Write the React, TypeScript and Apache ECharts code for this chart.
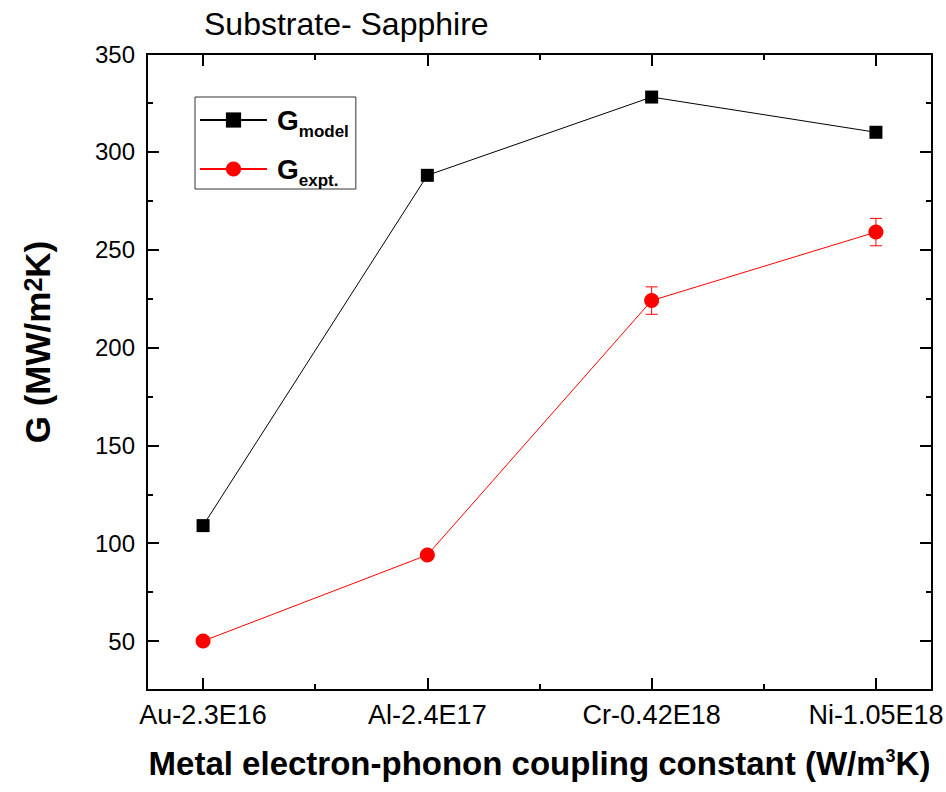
import React, { useEffect, useRef } from "react";
import * as echarts from "echarts";

// Interfacial thermal conductance on a sapphire substrate
const categories = ["Au-2.3E16", "Al-2.4E17", "Cr-0.42E18", "Ni-1.05E18"];
const gModel = [109, 288, 328, 310];
const gExpt = [50, 94, 224, 259];
const gExptErr = [0, 0, 7, 7];

const yMajorTicks = [50, 100, 150, 200, 250, 300, 350];
const yMinorTicks = [75, 125, 175, 225, 275, 325];
const xMinorTicks = [0.5, 1.5, 2.5];

const FONT = "'Liberation Sans', Arial, Helvetica, sans-serif";

export default function App() {
  const ref = useRef<HTMLDivElement>(null);

  useEffect(() => {
    if (!ref.current) return;
    const chart = echarts.init(ref.current, null, { renderer: "svg" });

    const xMajorTicks = categories.map((_, i) => i);
    const modelData = gModel.map((v, i) => [i, v]);
    const exptData = gExpt.map((v, i) => [i, v]);
    const errData = gExpt
      .map((v, i) => [i, v, gExptErr[i]])
      .filter((d) => d[2] > 0);

    const axisLine = { show: true, onZero: false, lineStyle: { color: "#000", width: 2 } };
    const noLine = { show: false, onZero: false };
    const tickStyle = { color: "#000", width: 2 };

    const xBase = {
      type: "value" as const,
      min: -0.25,
      max: 3.25,
      splitLine: { show: false },
    };
    const yBase = {
      type: "value" as const,
      min: 25,
      max: 350,
      splitLine: { show: false },
    };

    const legendNames: Record<string, string> = {
      Gmodel: "{g|G}{s|model}",
      Gexpt: "{g|G}{s|expt.}",
    };

    chart.setOption({
      animation: false,
      backgroundColor: "#fff",
      textStyle: { fontFamily: FONT },
      title: {
        text: "Substrate- Sapphire",
        left: 199,
        top: 3,
        textStyle: { fontFamily: FONT, fontSize: 32, fontWeight: "normal", color: "#000" },
      },
      grid: { left: 147, right: 14, top: 54, bottom: 102, outerBoundsMode: "none", containLabel: false },
      legend: {
        orient: "vertical",
        left: 195,
        top: 97,
        itemWidth: 67,
        itemHeight: 19,
        itemGap: 6,
        padding: [0, 7, 0, 4],
        borderColor: "#333",
        borderWidth: 1,
        data: ["Gmodel", "Gexpt"],
        formatter: (name: string) => legendNames[name],
        textStyle: {
          fontFamily: FONT,
          color: "#000",
          rich: {
            g: {
              fontFamily: FONT,
              fontSize: 28,
              fontWeight: "bold",
              color: "#000",
              lineHeight: 40,
              verticalAlign: "middle",
              padding: [0, 0, 0, 5],
            },
            s: {
              fontFamily: FONT,
              fontSize: 17,
              fontWeight: "bold",
              color: "#000",
              lineHeight: 14,
              verticalAlign: "bottom",
              padding: [26, 0, 0, 0],
            },
          },
        },
      },
      xAxis: [
        {
          ...xBase,
          position: "bottom",
          axisLine,
          axisTick: { show: true, inside: true, length: 12, customValues: xMajorTicks, lineStyle: tickStyle },
          axisLabel: {
            show: true,
            customValues: xMajorTicks,
            margin: 11,
            fontFamily: FONT,
            fontSize: 27,
            color: "#000",
            formatter: (v: number) => categories[Math.round(v)] ?? "",
          },
          name: "{a|Metal electron-phonon coupling constant (W/m}{b|3}{a|K)}",
          nameLocation: "middle",
          nameGap: 57,
          nameTextStyle: {
            rich: {
              a: {
                fontFamily: FONT,
                fontSize: 33,
                fontWeight: "bold",
                color: "#000",
                lineHeight: 33,
                verticalAlign: "bottom",
                padding: [8, 0, 0, 0],
              },
              b: {
                fontFamily: FONT,
                fontSize: 18,
                fontWeight: "bold",
                color: "#000",
                lineHeight: 18,
                verticalAlign: "top",
              },
            },
          },
        },
        {
          ...xBase,
          position: "bottom",
          axisLine: noLine,
          axisTick: { show: true, inside: true, length: 6, customValues: xMinorTicks, lineStyle: tickStyle },
          axisLabel: { show: false },
        },
        {
          ...xBase,
          position: "top",
          axisLine,
          axisTick: { show: true, inside: true, length: 12, customValues: xMajorTicks, lineStyle: tickStyle },
          axisLabel: { show: false },
        },
        {
          ...xBase,
          position: "top",
          axisLine: noLine,
          axisTick: { show: true, inside: true, length: 6, customValues: xMinorTicks, lineStyle: tickStyle },
          axisLabel: { show: false },
        },
      ],
      yAxis: [
        {
          ...yBase,
          position: "left",
          axisLine,
          axisTick: { show: true, inside: true, length: 12, customValues: yMajorTicks, lineStyle: tickStyle },
          axisLabel: {
            show: true,
            customValues: yMajorTicks,
            margin: 12,
            fontFamily: FONT,
            fontSize: 24,
            color: "#000",
          },
          name: "{a|G (MW/m}{b|2}{a|K)}",
          nameLocation: "middle",
          nameGap: 92,
          nameTextStyle: {
            padding: [0, 0, 0, 60],
            rich: {
              a: {
                fontFamily: FONT,
                fontSize: 35,
                fontWeight: "bold",
                color: "#000",
                lineHeight: 35,
                verticalAlign: "bottom",
                padding: [18, 0, 0, 0],
              },
              b: {
                fontFamily: FONT,
                fontSize: 25,
                fontWeight: "bold",
                color: "#000",
                lineHeight: 25,
                verticalAlign: "top",
              },
            },
          },
        },
        {
          ...yBase,
          position: "left",
          axisLine: noLine,
          axisTick: { show: true, inside: true, length: 6, customValues: yMinorTicks, lineStyle: tickStyle },
          axisLabel: { show: false },
        },
        {
          ...yBase,
          position: "right",
          axisLine,
          axisTick: { show: true, inside: true, length: 12, customValues: yMajorTicks, lineStyle: tickStyle },
          axisLabel: { show: false },
        },
        {
          ...yBase,
          position: "right",
          axisLine: noLine,
          axisTick: { show: true, inside: true, length: 6, customValues: yMinorTicks, lineStyle: tickStyle },
          axisLabel: { show: false },
        },
      ],
      series: [
        {
          name: "Gmodel",
          type: "line",
          xAxisIndex: 0,
          yAxisIndex: 0,
          data: modelData,
          symbol: "rect",
          symbolSize: 13,
          itemStyle: { color: "#000" },
          lineStyle: { color: "#000", width: 1 },
          z: 3,
        },
        {
          name: "Gexpt",
          type: "line",
          xAxisIndex: 0,
          yAxisIndex: 0,
          data: exptData,
          symbol: "circle",
          symbolSize: 15,
          itemStyle: { color: "#ff0000" },
          lineStyle: { color: "#ff0000", width: 1 },
          z: 3,
        },
        {
          name: "Gexpt error",
          type: "custom",
          xAxisIndex: 0,
          yAxisIndex: 0,
          data: errData,
          encode: { x: 0, y: 1 },
          z: 2,
          renderItem: (_params: any, api: any) => {
            const x = api.value(0);
            const y = api.value(1);
            const e = api.value(2);
            const top = api.coord([x, y + e]);
            const bot = api.coord([x, y - e]);
            const hw = 6;
            const style = { stroke: "#ff0000", lineWidth: 1 };
            return {
              type: "group",
              children: [
                { type: "line", shape: { x1: top[0], y1: top[1], x2: bot[0], y2: bot[1] }, style },
                { type: "line", shape: { x1: top[0] - hw, y1: top[1], x2: top[0] + hw, y2: top[1] }, style },
                { type: "line", shape: { x1: bot[0] - hw, y1: bot[1], x2: bot[0] + hw, y2: bot[1] }, style },
              ],
            };
          },
        },
      ],
    });

    return () => chart.dispose();
  }, []);

  return (
    <div
      ref={ref}
      style={{ position: "fixed", left: 0, top: 0, width: 946, height: 792, background: "#fff" }}
    />
  );
}
